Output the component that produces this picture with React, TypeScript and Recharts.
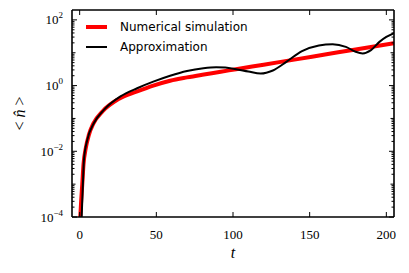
import React from 'react';
import { LineChart, Line, XAxis, YAxis, Legend, Label } from 'recharts';

// Numerical simulation (red)
const simT = [0.4, 1.0, 1.7, 2.5, 4, 6, 9, 15, 25, 37.5, 48, 59, 70, 80, 92, 102, 120, 140, 160, 180, 205];
const simN = [0.0001, 0.00032, 0.001, 0.004, 0.0126, 0.0316, 0.0708, 0.166, 0.38, 0.661, 1.0, 1.41, 1.78, 2.14, 2.63, 3.16, 4.32, 6.17, 8.81, 12.6, 19.5];

// Approximation (black)
const apprT = [1.3, 2.1, 2.8, 5, 9.3, 15.8, 26.6, 37.5, 48, 59, 70, 80.7, 89, 95, 102, 110, 118, 126, 135, 145, 156, 165, 173.6, 180, 184.6, 190, 195.5, 200, 205];
const apprN = [0.0001, 0.001, 0.0056, 0.0224, 0.0724, 0.182, 0.468, 0.832, 1.32, 2.0, 2.79, 3.39, 3.63, 3.55, 3.16, 2.69, 2.33, 2.88, 5.37, 11.2, 16.6, 18.2, 15.1, 10.7, 9.55, 12.0, 21.4, 30.2, 39.8];

const xTicks = [0, 50, 100, 150, 200];
const xDomain = [-5, 205];
const yDomain = [0.0001, 200];
const decades = [-4, -3, -2, -1, 0, 1, 2];
const mantissas = [1, 2, 3, 4, 5, 6, 7, 8, 9];
const seriesNames = ['Numerical simulation', 'Approximation'];

const yTicks: number[] = [];
decades.forEach((d) => {
  mantissas.forEach((m) => {
    const v = m * Math.pow(10, d);
    if (v < yDomain[1] * 0.999) yTicks.push(v);
  });
});

const simData = simT.map((t, i) => ({ t, v: simN[i] }));
const apprData = apprT.map((t, i) => ({ t, v: apprN[i] }));

const SERIF = 'Liberation Serif';
const SANS = 'DejaVu Sans';
const AXIS_LINE = { stroke: '#000', strokeWidth: 1.6 };

function tickInfo(v: number) {
  const e = Math.floor(Math.log10(v) + 1e-9);
  const m = v / Math.pow(10, e);
  const isDecade = Math.abs(m - 1) < 1e-6;
  return { e, isDecade, labeled: isDecade && e % 2 === 0 };
}

const YTickLeft = (props: any) => {
  const { x, y, payload } = props;
  const info = tickInfo(payload.value);
  const len = info.labeled ? 5 : info.isDecade ? 3.5 : 2.5;
  const exp = info.e < 0 ? '\u2212' + Math.abs(info.e) : String(info.e);
  return (
    <g>
      <line x1={x} y1={y} x2={x + len} y2={y} stroke="#000" strokeWidth={1} />
      {info.labeled && (
        <text x={x - 9} y={y + 4.5} textAnchor="end" fontFamily={SERIF} fontSize={13} fill="#000">
          10<tspan dy={-6} fontSize={9}>{exp}</tspan>
        </text>
      )}
    </g>
  );
};

const YTickRight = (props: any) => {
  const { x, y, payload } = props;
  const info = tickInfo(payload.value);
  const len = info.labeled ? 5 : info.isDecade ? 3.5 : 2.5;
  return <line x1={x} y1={y} x2={x - len} y2={y} stroke="#000" strokeWidth={1} />;
};

const XTickBottom = (props: any) => {
  const { x, y, payload } = props;
  return (
    <g>
      <line x1={x} y1={y} x2={x} y2={y - 5} stroke="#000" strokeWidth={1} />
      <text x={x} y={y + 22} textAnchor="middle" fontFamily={SERIF} fontSize={13} fill="#000">
        {payload.value}
      </text>
    </g>
  );
};

const XTickTop = (props: any) => {
  const { x, y } = props;
  return <line x1={x} y1={y} x2={x} y2={y + 5} stroke="#000" strokeWidth={1} />;
};

const YLabelContent = (props: any) => {
  const vb = props.viewBox;
  const cx = vb.x + 19;
  const cy = vb.y + vb.height / 2;
  return (
    <text
      transform={`translate(${cx},${cy}) rotate(-90)`}
      textAnchor="middle"
      dominantBaseline="central"
      fontFamily={SERIF}
      fontSize={16}
      fill="#000"
    >
      {'< '}
      <tspan fontStyle="italic">{'n\u0302'}</tspan>
      {' >'}
    </text>
  );
};

const XLabelContent = (props: any) => {
  const vb = props.viewBox;
  return (
    <text
      x={vb.x + vb.width / 2}
      y={vb.y + 41}
      textAnchor="middle"
      fontFamily={SERIF}
      fontStyle="italic"
      fontSize={16}
      fill="#000"
    >
      t
    </text>
  );
};

const LegendContent = () => (
  <svg width={200} height={45}>
    <line x1={6} y1={12} x2={27} y2={12} stroke="#ff0000" strokeWidth={4} />
    <text x={40} y={12} dominantBaseline="central" fontFamily={SANS} fontSize={12} fill="#000">
      {seriesNames[0]}
    </text>
    <line x1={6} y1={32} x2={27} y2={32} stroke="#000" strokeWidth={2} />
    <text x={40} y={32} dominantBaseline="central" fontFamily={SANS} fontSize={12} fill="#000">
      {seriesNames[1]}
    </text>
  </svg>
);

export default function App() {
  return (
    <div style={{ position: 'absolute', left: 0, top: 0, width: 409, height: 273, background: '#fff' }}>
      <LineChart width={409} height={273} margin={{ top: 0, right: 0, bottom: 0, left: 0 }}>
        <XAxis
          xAxisId="b"
          dataKey="t"
          type="number"
          domain={xDomain}
          ticks={xTicks}
          allowDataOverflow
          orientation="bottom"
          height={56}
          tickSize={0}
          tickMargin={0}
          tickLine={false}
          stroke="#000"
          axisLine={AXIS_LINE}
          tick={<XTickBottom />}
          interval={0}
        >
          <Label content={<XLabelContent />} />
        </XAxis>
        <XAxis
          xAxisId="t"
          dataKey="t"
          type="number"
          domain={xDomain}
          ticks={xTicks}
          allowDataOverflow
          orientation="top"
          height={10}
          tickSize={0}
          tickMargin={0}
          tickLine={false}
          stroke="#000"
          axisLine={AXIS_LINE}
          tick={<XTickTop />}
          interval={0}
        />
        <YAxis
          yAxisId="l"
          type="number"
          scale="log"
          domain={yDomain}
          ticks={yTicks}
          allowDataOverflow
          orientation="left"
          width={72}
          tickSize={0}
          tickMargin={0}
          tickLine={false}
          stroke="#000"
          axisLine={AXIS_LINE}
          tick={<YTickLeft />}
          interval={0}
        >
          <Label content={<YLabelContent />} />
        </YAxis>
        <YAxis
          yAxisId="r"
          type="number"
          scale="log"
          domain={yDomain}
          ticks={yTicks}
          allowDataOverflow
          orientation="right"
          width={15}
          tickSize={0}
          tickMargin={0}
          tickLine={false}
          stroke="#000"
          axisLine={AXIS_LINE}
          tick={<YTickRight />}
          interval={0}
        />
        <Legend
          layout="vertical"
          align="center"
          verticalAlign="middle"
          content={<LegendContent />}
          wrapperStyle={{ left: 80, top: 15, width: 200, height: 45 }}
        />
        <Line
          xAxisId="b"
          yAxisId="l"
          data={simData}
          dataKey="v"
          name={seriesNames[0]}
          type="monotone"
          stroke="#ff0000"
          strokeWidth={4}
          dot={false}
          activeDot={false}
          isAnimationActive={false}
        />
        <Line
          xAxisId="b"
          yAxisId="l"
          data={apprData}
          dataKey="v"
          name={seriesNames[1]}
          type="monotone"
          stroke="#000"
          strokeWidth={2}
          dot={false}
          activeDot={false}
          isAnimationActive={false}
        />
      </LineChart>
    </div>
  );
}
